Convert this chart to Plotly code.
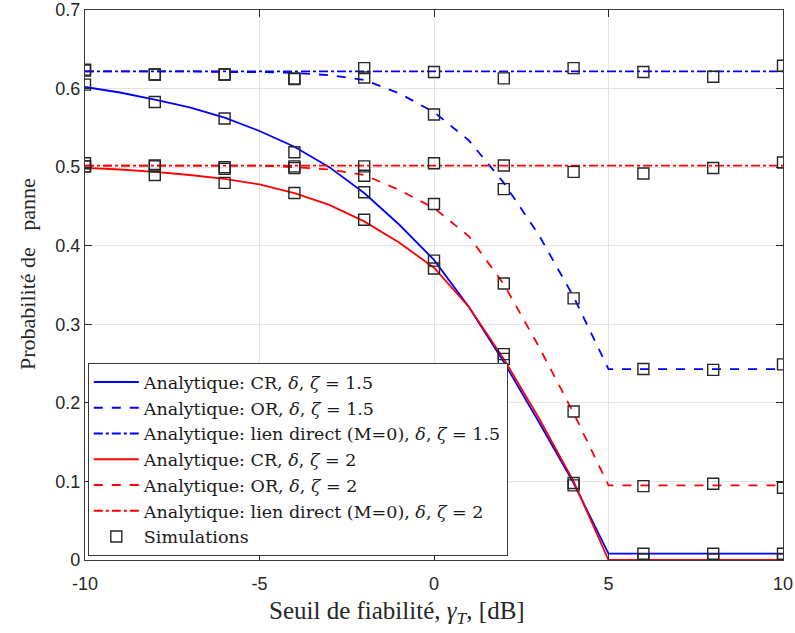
import plotly.graph_objects as go

x_an = list(range(-10, 11))
cr_15 = [0.602, 0.595, 0.586, 0.576, 0.563, 0.546, 0.526, 0.500, 0.467, 0.427, 0.382,
         0.322, 0.252, 0.176, 0.098, 0.008, 0.008, 0.008, 0.008, 0.008, 0.008]
or_15 = [0.622, 0.622, 0.622, 0.622, 0.621, 0.621, 0.620, 0.617, 0.611, 0.594, 0.570,
         0.534, 0.480, 0.414, 0.335, 0.243, 0.243, 0.243, 0.243, 0.243, 0.243]
dl_15 = [0.622] * 21
cr_2 = [0.499, 0.497, 0.494, 0.490, 0.485, 0.478, 0.467, 0.452, 0.431, 0.404, 0.372,
        0.322, 0.256, 0.181, 0.100, 0.000, 0.000, 0.000, 0.000, 0.000, 0.000]
or_2 = [0.502, 0.502, 0.502, 0.502, 0.502, 0.502, 0.500, 0.497, 0.490, 0.471, 0.448,
        0.412, 0.351, 0.272, 0.187, 0.095, 0.095, 0.095, 0.095, 0.095, 0.095]
dl_2 = [0.502] * 21

x_sim = [-10, -8, -6, -4, -2, 0, 2, 4, 6, 8, 10]
sim_cr_15 = [0.605, 0.583, 0.562, 0.519, 0.468, 0.381, 0.262, 0.098, 0.008, 0.008, 0.008]
sim_or_15 = [0.623, 0.618, 0.618, 0.613, 0.614, 0.567, 0.472, 0.333, 0.243, 0.242, 0.249]
sim_dl_15 = [0.624, 0.618, 0.618, 0.612, 0.626, 0.621, 0.613, 0.626, 0.621, 0.615, 0.629]
sim_cr_2 = [0.501, 0.490, 0.480, 0.467, 0.433, 0.371, 0.256, 0.095, 0.001, 0.001, 0.001]
sim_or_2 = [0.501, 0.501, 0.498, 0.499, 0.489, 0.453, 0.352, 0.189, 0.094, 0.097, 0.092]
sim_dl_2 = [0.505, 0.502, 0.500, 0.501, 0.501, 0.505, 0.502, 0.494, 0.492, 0.499, 0.506]

x_ticks = [-10, -5, 0, 5, 10]
x_tick_text = ["-10", "-5", "0", "5", "10"]
y_ticks = [0, 0.1, 0.2, 0.3, 0.4, 0.5, 0.6, 0.7]
y_tick_text = ["0", "0.1", "0.2", "0.3", "0.4", "0.5", "0.6", "0.7"]

BLUE = "#0000FF"
RED = "#FF0000"
INK = "#262626"

fig = go.Figure()
curves = [
    (cr_15, BLUE, "solid", "Analytique: CR, <i>δ</i>, <i>ζ</i> = 1.5"),
    (or_15, BLUE, "dash", "Analytique: OR, <i>δ</i>, <i>ζ</i> = 1.5"),
    (dl_15, BLUE, "dashdot", "Analytique: lien direct (M=0), <i>δ</i>, <i>ζ</i> = 1.5"),
    (cr_2, RED, "solid", "Analytique: CR, <i>δ</i>, <i>ζ</i> = 2"),
    (or_2, RED, "dash", "Analytique: OR, <i>δ</i>, <i>ζ</i> = 2"),
    (dl_2, RED, "dashdot", "Analytique: lien direct (M=0), <i>δ</i>, <i>ζ</i> = 2"),
]
for ys, col, dash, name in curves:
    fig.add_trace(go.Scatter(x=x_an, y=ys, mode="lines", name=name,
                             line=dict(color=col, width=1.8, dash=dash)))

sims = [sim_cr_15, sim_or_15, sim_dl_15, sim_cr_2, sim_or_2, sim_dl_2]
for i, ys in enumerate(sims):
    fig.add_trace(go.Scatter(x=x_sim, y=ys, mode="markers", name="Simulations",
                             showlegend=(i == 0), legendgroup="sim",
                             marker=dict(symbol="square-open", size=11, color=INK,
                                         line=dict(width=1.4, color=INK))))

axis_common = dict(ticks="inside", ticklen=7, tickcolor=INK, showline=True,
                   linecolor="#3a3a3a", linewidth=1.2, mirror="ticks", showgrid=True,
                   gridcolor="#e3e3e3", zeroline=False, automargin=False,
                   ticklabeloverflow="allow",
                   tickfont=dict(family="Liberation Sans", size=18, color=INK))

fig.update_layout(
    width=795, height=633,
    margin=dict(l=85, r=12, t=10, b=73),
    paper_bgcolor="white", plot_bgcolor="white",
    showlegend=True,
    legend=dict(x=0.004, y=0.358, xanchor="left", yanchor="top",
                bgcolor="white", bordercolor="#3a3a3a", borderwidth=1,
                font=dict(family="DejaVu Serif", size=17.5, color="#1a1a1a"),
                tracegroupgap=0, itemwidth=45),
    xaxis=dict(range=[-10, 10], tickvals=x_ticks, ticktext=x_tick_text,
               ticklabelstandoff=7, **axis_common),
    yaxis=dict(range=[0, 0.7], tickvals=y_ticks, ticktext=y_tick_text, **axis_common),
    annotations=[
        dict(text="Seuil de fiabilité, <i>γ<sub>T</sub></i>, [dB]", xref="paper", yref="paper",
             x=(397 - 85) / 698, y=-(612 - 560) / 550, xanchor="center", yanchor="middle",
             showarrow=False, font=dict(family="Liberation Serif", size=25, color=INK)),
        dict(text="Probabilité de&nbsp;&nbsp;&nbsp;panne", xref="paper", yref="paper",
             x=-(85 - 27) / 698, y=(560 - 274) / 550, xanchor="center", yanchor="middle",
             textangle=-90, showarrow=False,
             font=dict(family="Liberation Serif", size=22, color=INK)),
    ],
)

# remove the default 8px body margin so the figure fills the window exactly
fig.write_html("out.html", config={"displayModeBar": False},
               post_script="document.body.style.margin='0';document.body.style.overflow='hidden';")
